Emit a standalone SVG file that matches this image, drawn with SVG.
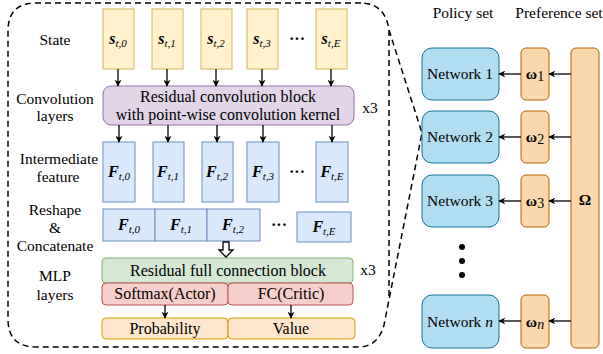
<svg xmlns="http://www.w3.org/2000/svg" width="603" height="354" viewBox="0 0 603 354" font-family="'Liberation Serif', 'DejaVu Serif', serif">
<defs>
<style>
text{font-family:'Liberation Serif','DejaVu Serif',serif}
.lbl{font-size:15.5px;fill:#000;text-anchor:middle}
.bt{font-size:16px;fill:#000;text-anchor:middle}
.sym{font-size:16px;fill:#000;text-anchor:middle}
.sb{font-weight:bold;font-style:italic}
.sub{font-style:italic;font-size:11px}
.st{fill:#fff2cc;stroke:#d6b656;stroke-width:1}
.ft{fill:#dae8fc;stroke:#6c8ebf;stroke-width:1}
.net{fill:#b1ddf0;stroke:#10739e;stroke-width:1}
.pref{fill:#fad7ac;stroke:#b46504;stroke-width:1}
.dash{fill:none;stroke:#000;stroke-width:1.5;stroke-dasharray:6 4}
.ar{stroke:#000;stroke-width:1.3;fill:none;marker-end:url(#ah)}
</style>
<marker id="ah" viewBox="0 0 10 10" refX="9" refY="5" markerWidth="7" markerHeight="7" markerUnits="userSpaceOnUse" orient="auto">
<path d="M0,0 L10,5 L0,10 L3,5 Z" fill="#000"/>
</marker>
</defs>
<rect width="603" height="354" fill="#fff"/>

<!-- dashed callout -->
<g id="callout">
<path class="dash" d="M361 3 H36 Q8 3 8 31 V319 Q8 347 36 347 H358 Q378 347 384 325 L422 133 L389 30 Q385 3 361 3"/>
<path class="dash" d="M389 30 V300"/>
</g>

<!-- row labels -->
<g id="labels">
<text class="lbl" x="55" y="45">State</text>
<text class="lbl" x="55" y="104">Convolution</text>
<text class="lbl" x="55" y="121">layers</text>
<text class="lbl" x="59" y="164">Intermediate</text>
<text class="lbl" x="58" y="182">feature</text>
<text class="lbl" x="55" y="215">Reshape</text>
<text class="lbl" x="55" y="233">&amp;</text>
<text class="lbl" x="55" y="251">Concatenate</text>
<text class="lbl" x="55" y="281">MLP</text>
<text class="lbl" x="55" y="300">layers</text>
<text class="lbl" x="463" y="18">Policy set</text>
<text class="lbl" x="559" y="18">Preference set</text>
</g>

<!-- state boxes -->
<g id="s0"><rect class="st" x="103" y="9" width="31" height="60"/><text class="sym" x="118" y="44"><tspan class="sb">s</tspan><tspan class="sub" dy="3">t,0</tspan></text></g>
<g id="s1"><rect class="st" x="152" y="9" width="31" height="60"/><text class="sym" x="167" y="44"><tspan class="sb">s</tspan><tspan class="sub" dy="3">t,1</tspan></text></g>
<g id="s2"><rect class="st" x="201" y="9" width="31" height="60"/><text class="sym" x="216" y="44"><tspan class="sb">s</tspan><tspan class="sub" dy="3">t,2</tspan></text></g>
<g id="s3"><rect class="st" x="247" y="9" width="31" height="60"/><text class="sym" x="262" y="44"><tspan class="sb">s</tspan><tspan class="sub" dy="3">t,3</tspan></text></g>
<g id="sdots"><text class="bt" x="297" y="44" font-weight="bold">···</text></g>
<g id="sE"><rect class="st" x="316" y="9" width="31" height="60"/><text class="sym" x="331" y="44"><tspan class="sb">s</tspan><tspan class="sub" dy="3">t,E</tspan></text></g>

<!-- conv block -->
<g id="conv">
<rect x="103" y="86" width="251" height="39" rx="8" fill="#e1d5e7" stroke="#9673a6"/>
<text class="bt" x="228" y="102">Residual convolution block</text>
<text class="bt" x="228" y="120">with point-wise convolution kernel</text>
<text class="lbl" x="370" y="113">x3</text>
</g>

<!-- intermediate features -->
<g id="f0"><rect class="ft" x="103" y="142" width="32" height="60"/><text class="sym" x="119" y="177"><tspan class="sb">F</tspan><tspan class="sub" dy="3">t,0</tspan></text></g>
<g id="f1"><rect class="ft" x="153" y="142" width="31" height="60"/><text class="sym" x="168" y="177"><tspan class="sb">F</tspan><tspan class="sub" dy="3">t,1</tspan></text></g>
<g id="f2"><rect class="ft" x="202" y="142" width="31" height="60"/><text class="sym" x="217" y="177"><tspan class="sb">F</tspan><tspan class="sub" dy="3">t,2</tspan></text></g>
<g id="f3"><rect class="ft" x="247" y="142" width="32" height="60"/><text class="sym" x="263" y="177"><tspan class="sb">F</tspan><tspan class="sub" dy="3">t,3</tspan></text></g>
<g id="fdots"><text class="bt" x="297" y="177" font-weight="bold">···</text></g>
<g id="fE"><rect class="ft" x="316" y="142" width="32" height="60"/><text class="sym" x="332" y="177"><tspan class="sb">F</tspan><tspan class="sub" dy="3">t,E</tspan></text></g>

<!-- reshape row -->
<g id="r0"><rect class="ft" x="103" y="209" width="52" height="32"/><text class="sym" x="129" y="230"><tspan class="sb">F</tspan><tspan class="sub" dy="3">t,0</tspan></text></g>
<g id="r1"><rect class="ft" x="155" y="209" width="52" height="32"/><text class="sym" x="181" y="230"><tspan class="sb">F</tspan><tspan class="sub" dy="3">t,1</tspan></text></g>
<g id="r2"><rect class="ft" x="207" y="209" width="53" height="32"/><text class="sym" x="233" y="230"><tspan class="sb">F</tspan><tspan class="sub" dy="3">t,2</tspan></text></g>
<g id="rdots"><text class="bt" x="279" y="230" font-weight="bold">···</text></g>
<g id="rE"><rect class="ft" x="297" y="212" width="54" height="30"/><text class="sym" x="324" y="232"><tspan class="sb">F</tspan><tspan class="sub" dy="3">t,E</tspan></text></g>

<!-- MLP -->
<g id="mlp">
<rect x="102" y="258" width="251" height="25" rx="4" fill="#d5e8d4" stroke="#82b366"/>
<text class="bt" x="228" y="276">Residual full connection block</text>
<text class="lbl" x="368" y="275">x3</text>
</g>
<g id="actor"><rect x="102" y="283" width="126" height="22" rx="4" fill="#f8cecc" stroke="#b85450"/><text class="bt" x="165" y="299">Softmax(Actor)</text></g>
<g id="critic"><rect x="228" y="283" width="125" height="22" rx="4" fill="#f8cecc" stroke="#b85450"/><text class="bt" x="291" y="299">FC(Critic)</text></g>
<g id="prob"><rect x="102" y="318" width="126" height="21" rx="4" fill="#ffe6cc" stroke="#d79b00"/><text class="bt" x="165" y="334">Probability</text></g>
<g id="value"><rect x="228" y="318" width="127" height="21" rx="4" fill="#ffe6cc" stroke="#d79b00"/><text class="bt" x="291" y="334">Value</text></g>

<!-- right side -->
<g id="net1"><rect class="net" x="422" y="48" width="77" height="52" rx="10"/><text class="lbl" x="460" y="79">Network 1</text></g>
<g id="net2"><rect class="net" x="422" y="111" width="77" height="52" rx="10"/><text class="lbl" x="460" y="142">Network 2</text></g>
<g id="net3"><rect class="net" x="422" y="175" width="77" height="52" rx="10"/><text class="lbl" x="460" y="206">Network 3</text></g>
<g id="netn"><rect class="net" x="422" y="295" width="77" height="53" rx="10"/><text class="lbl" x="460" y="327">Network <tspan font-style="italic">n</tspan></text></g>
<g id="vdots" fill="#000"><circle cx="462" cy="247" r="3"/><circle cx="462" cy="261" r="3"/><circle cx="462" cy="275" r="3"/></g>

<g id="w1"><rect class="pref" x="521" y="48" width="28" height="52" rx="5"/><text class="lbl" x="535" y="79"><tspan font-weight="bold">ω</tspan><tspan font-size="14" dy="2">1</tspan></text></g>
<g id="w2"><rect class="pref" x="521" y="111" width="28" height="52" rx="5"/><text class="lbl" x="535" y="142"><tspan font-weight="bold">ω</tspan><tspan font-size="14" dy="2">2</tspan></text></g>
<g id="w3"><rect class="pref" x="521" y="175" width="28" height="52" rx="5"/><text class="lbl" x="535" y="206"><tspan font-weight="bold">ω</tspan><tspan font-size="14" dy="2">3</tspan></text></g>
<g id="wn"><rect class="pref" x="521" y="295" width="28" height="53" rx="5"/><text class="lbl" x="535" y="327"><tspan font-weight="bold">ω</tspan><tspan font-size="14" dy="2" font-style="italic">n</tspan></text></g>
<g id="omega"><rect class="pref" x="571" y="48" width="28" height="300" rx="5"/><text class="lbl" x="585" y="205" font-weight="bold">Ω</text></g>

<!-- connectors -->
<g id="connectors">
<line class="ar" x1="118" y1="69" x2="118" y2="86"/>
<line class="ar" x1="167" y1="69" x2="167" y2="86"/>
<line class="ar" x1="216" y1="69" x2="216" y2="86"/>
<line class="ar" x1="262" y1="69" x2="262" y2="86"/>
<line class="ar" x1="331" y1="69" x2="331" y2="86"/>
<line class="ar" x1="119" y1="125" x2="119" y2="142"/>
<line class="ar" x1="168" y1="125" x2="168" y2="142"/>
<line class="ar" x1="217" y1="125" x2="217" y2="142"/>
<line class="ar" x1="263" y1="125" x2="263" y2="142"/>
<line class="ar" x1="332" y1="125" x2="332" y2="142"/>
<path d="M223 242 H229 V250 H233 L226 257 L219 250 H223 Z" fill="#fff" stroke="#000" stroke-width="1.3"/>
<line class="ar" x1="165" y1="305" x2="165" y2="318"/>
<line class="ar" x1="291" y1="305" x2="291" y2="318"/>
<line class="ar" x1="571" y1="74" x2="549" y2="74"/>
<line class="ar" x1="571" y1="137" x2="549" y2="137"/>
<line class="ar" x1="571" y1="201" x2="549" y2="201"/>
<line class="ar" x1="571" y1="321" x2="549" y2="321"/>
<line class="ar" x1="521" y1="74" x2="499" y2="74"/>
<line class="ar" x1="521" y1="137" x2="499" y2="137"/>
<line class="ar" x1="521" y1="201" x2="499" y2="201"/>
<line class="ar" x1="521" y1="321" x2="499" y2="321"/>
</g>
</svg>
